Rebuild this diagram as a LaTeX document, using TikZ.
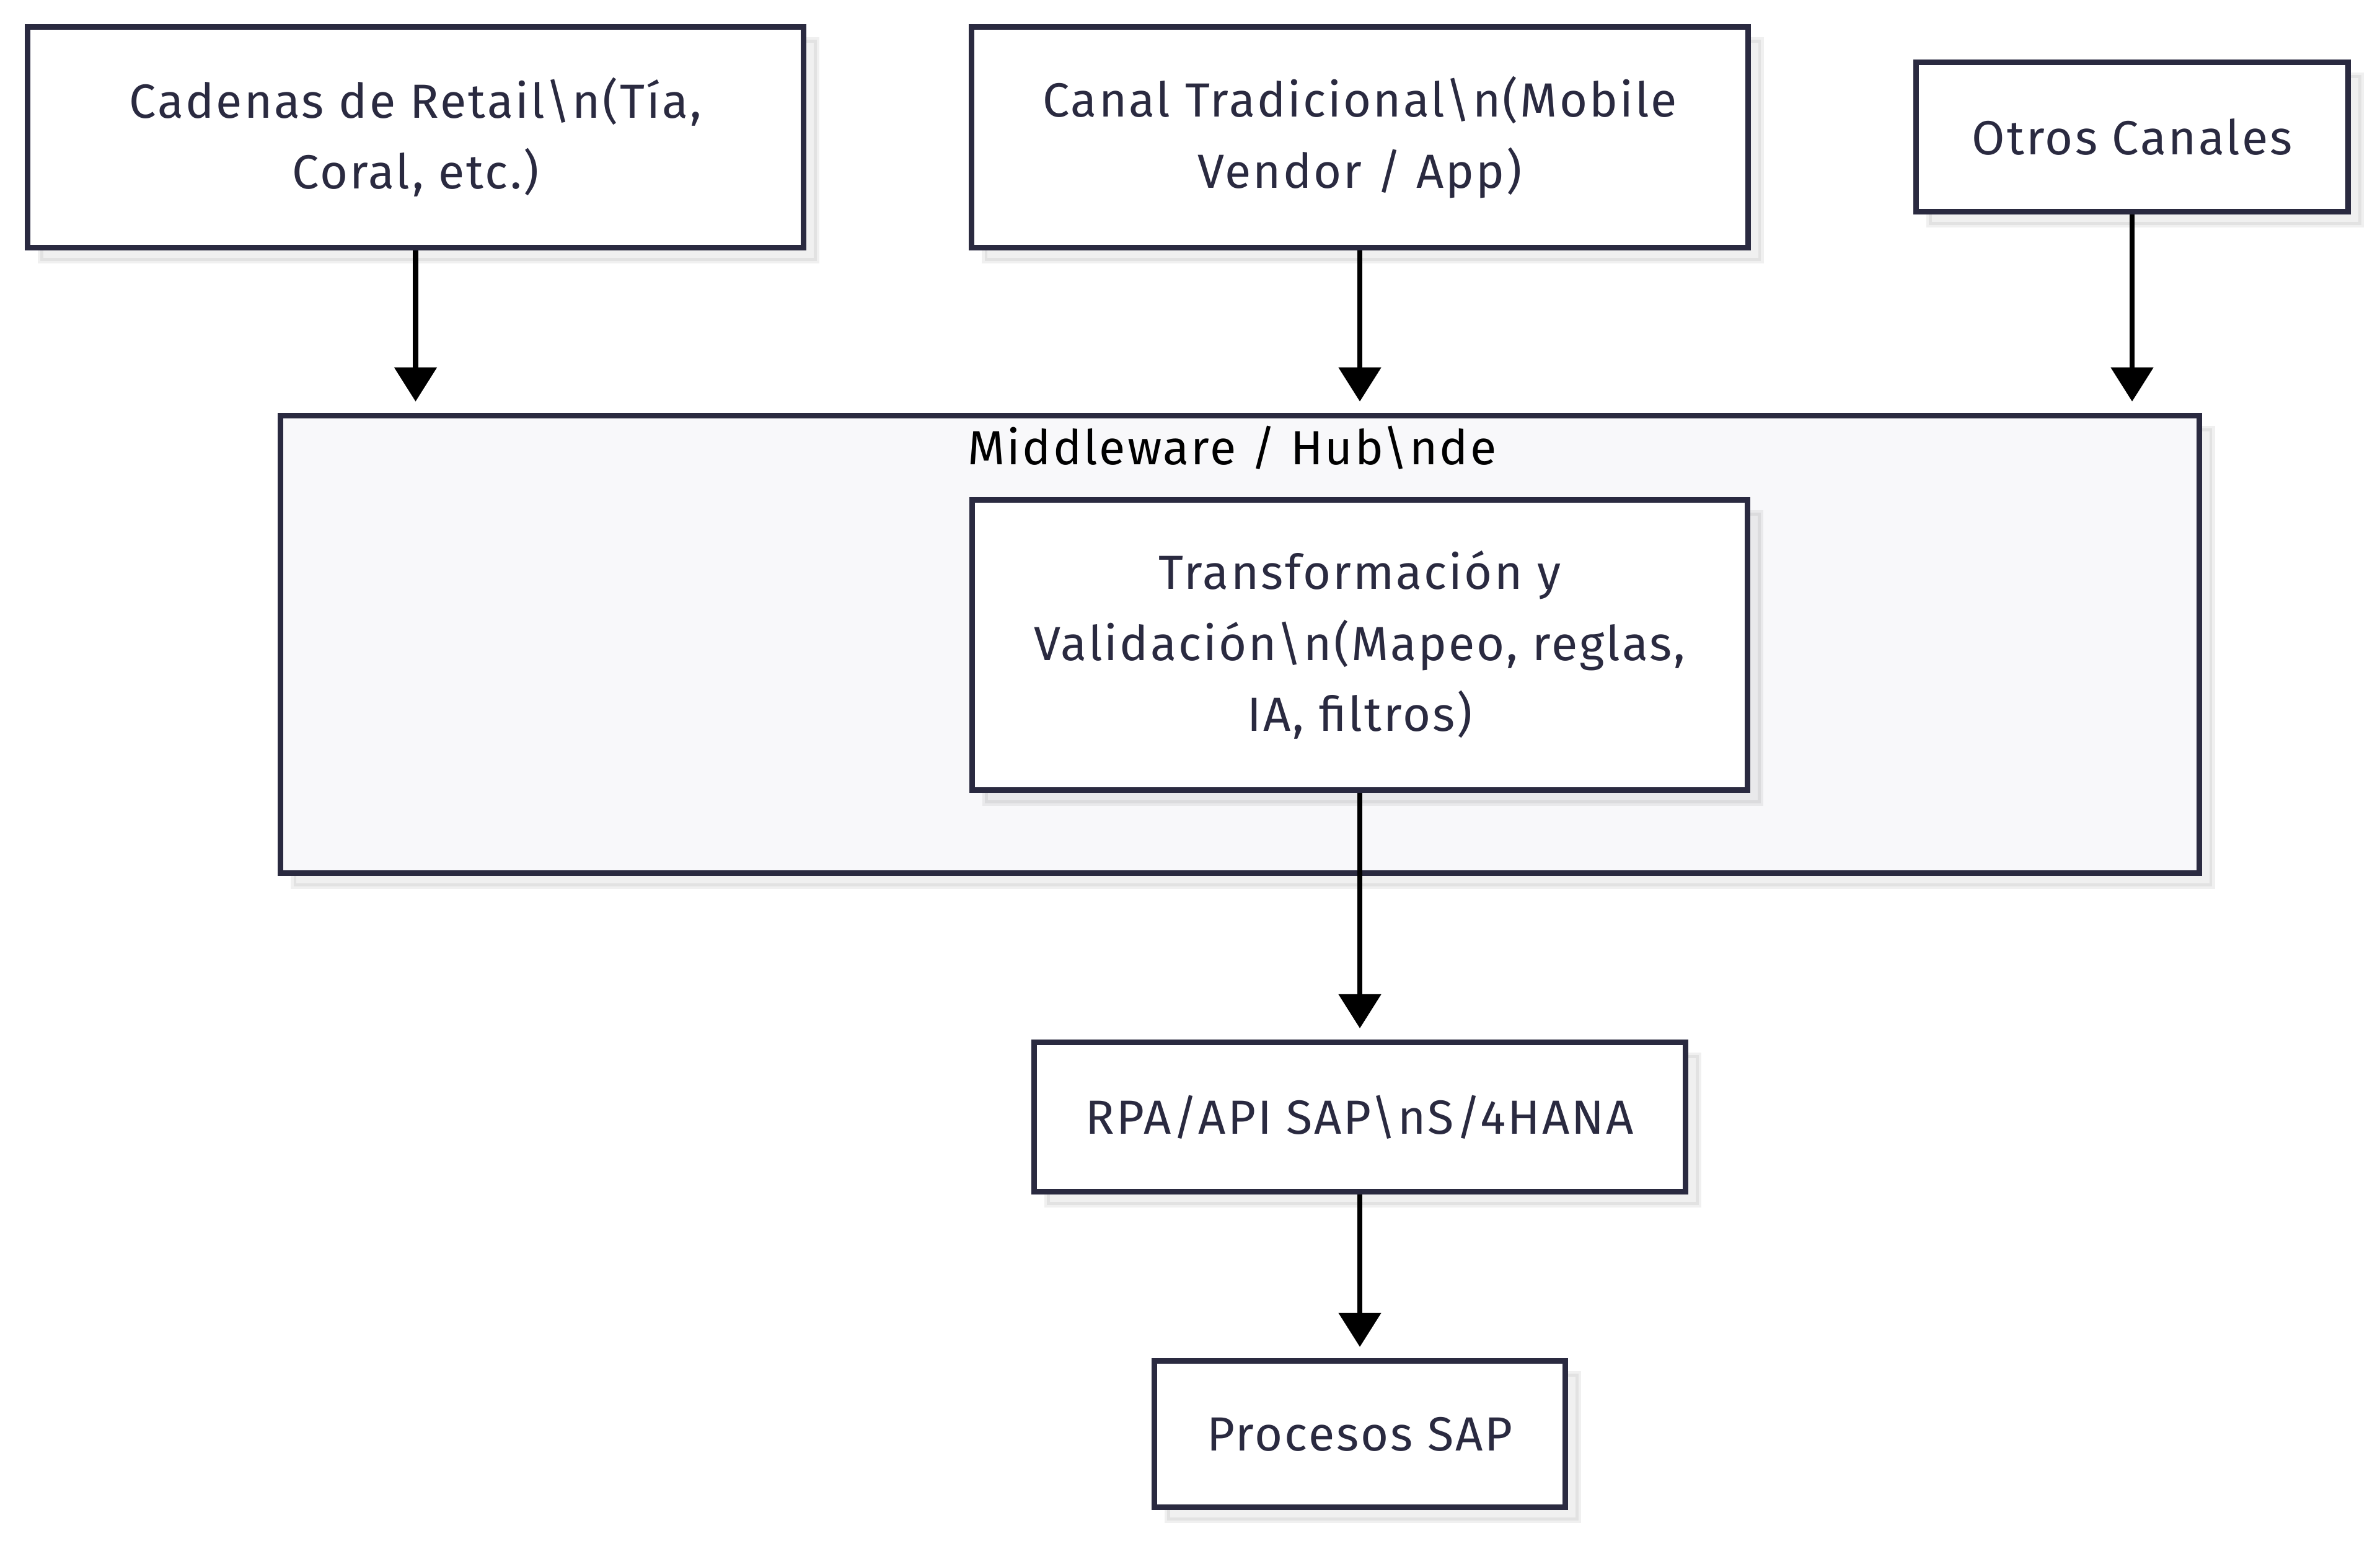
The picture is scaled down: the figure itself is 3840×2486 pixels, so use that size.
\documentclass[tikz,border=0pt]{standalone}
\usepackage{fontspec}
\setmainfont{Fira Sans}[LetterSpace=4]
\usetikzlibrary{arrows.meta,shadows}

\definecolor{boxline}{RGB}{42,42,64}
\definecolor{boxtext}{RGB}{42,42,64}
\definecolor{hubfill}{RGB}{248,248,250}

\tikzset{
  flowbox/.style={draw=boxline, line width=0.09cm, fill=white, text=boxtext,
    align=center, inner sep=0pt, font=\fontsize{22}{32.5}\selectfont,
    general shadow={fill=black, draw=black, line width=0.09cm, opacity=0.06,
      shadow xshift=0.21cm, shadow yshift=-0.21cm}},
  hubbox/.style={flowbox, fill=hubfill},
  arrowline/.style={line width=0.085cm, -{Triangle[width=0.67cm,length=0.55cm]}},
}

\begin{document}
\begin{tikzpicture}[x=0.01cm, y=-0.01cm]
\useasboundingbox (0,0) rectangle (3840,2486);

\node[flowbox, minimum width=12.52cm, minimum height=3.56cm] (cadenas) at (670.5,221.5)
  {Cadenas de Retail\textbackslash n(Tía,\\Coral, etc.)};
\node[flowbox, minimum width=12.52cm, minimum height=3.56cm] (canal) at (2194,221.5)
  {Canal Tradicional\textbackslash n(Mobile\\Vendor / App)};
\node[flowbox, minimum width=6.97cm, minimum height=2.41cm] (otros) at (3440,221)
  {Otros Canales};

\node[hubbox, minimum width=30.94cm, minimum height=7.38cm] (hub) at (2000.5,1039.5) {};
\node[font=\fontsize{22}{32.5}\selectfont, text=black, anchor=base, inner sep=0pt] (hubtitle) at (1988,750)
  {Middleware / Hub\textbackslash nde};
\node[flowbox, minimum width=12.51cm, minimum height=4.68cm] (transf) at (2194,1040.5)
  {Transformación y\\Validación\textbackslash n(Mapeo, reglas,\\IA, filtros)};

\node[flowbox, minimum width=10.51cm, minimum height=2.41cm] (rpa) at (2194,1802)
  {RPA/API SAP\textbackslash nS/4HANA};
\node[flowbox, minimum width=6.63cm, minimum height=2.36cm] (procesos) at (2194,2313.5)
  {Procesos SAP};

\draw[arrowline] (cadenas.south) -- ([yshift=0.18cm]cadenas.south |- hub.north);
\draw[arrowline] (canal.south) -- ([yshift=0.18cm]canal.south |- hub.north);
\draw[arrowline] (otros.south) -- ([yshift=0.18cm]otros.south |- hub.north);
\draw[arrowline] (transf.south) -- ([yshift=0.18cm]rpa.north);
\draw[arrowline] (rpa.south) -- ([yshift=0.18cm]procesos.north);
\end{tikzpicture}
\end{document}
